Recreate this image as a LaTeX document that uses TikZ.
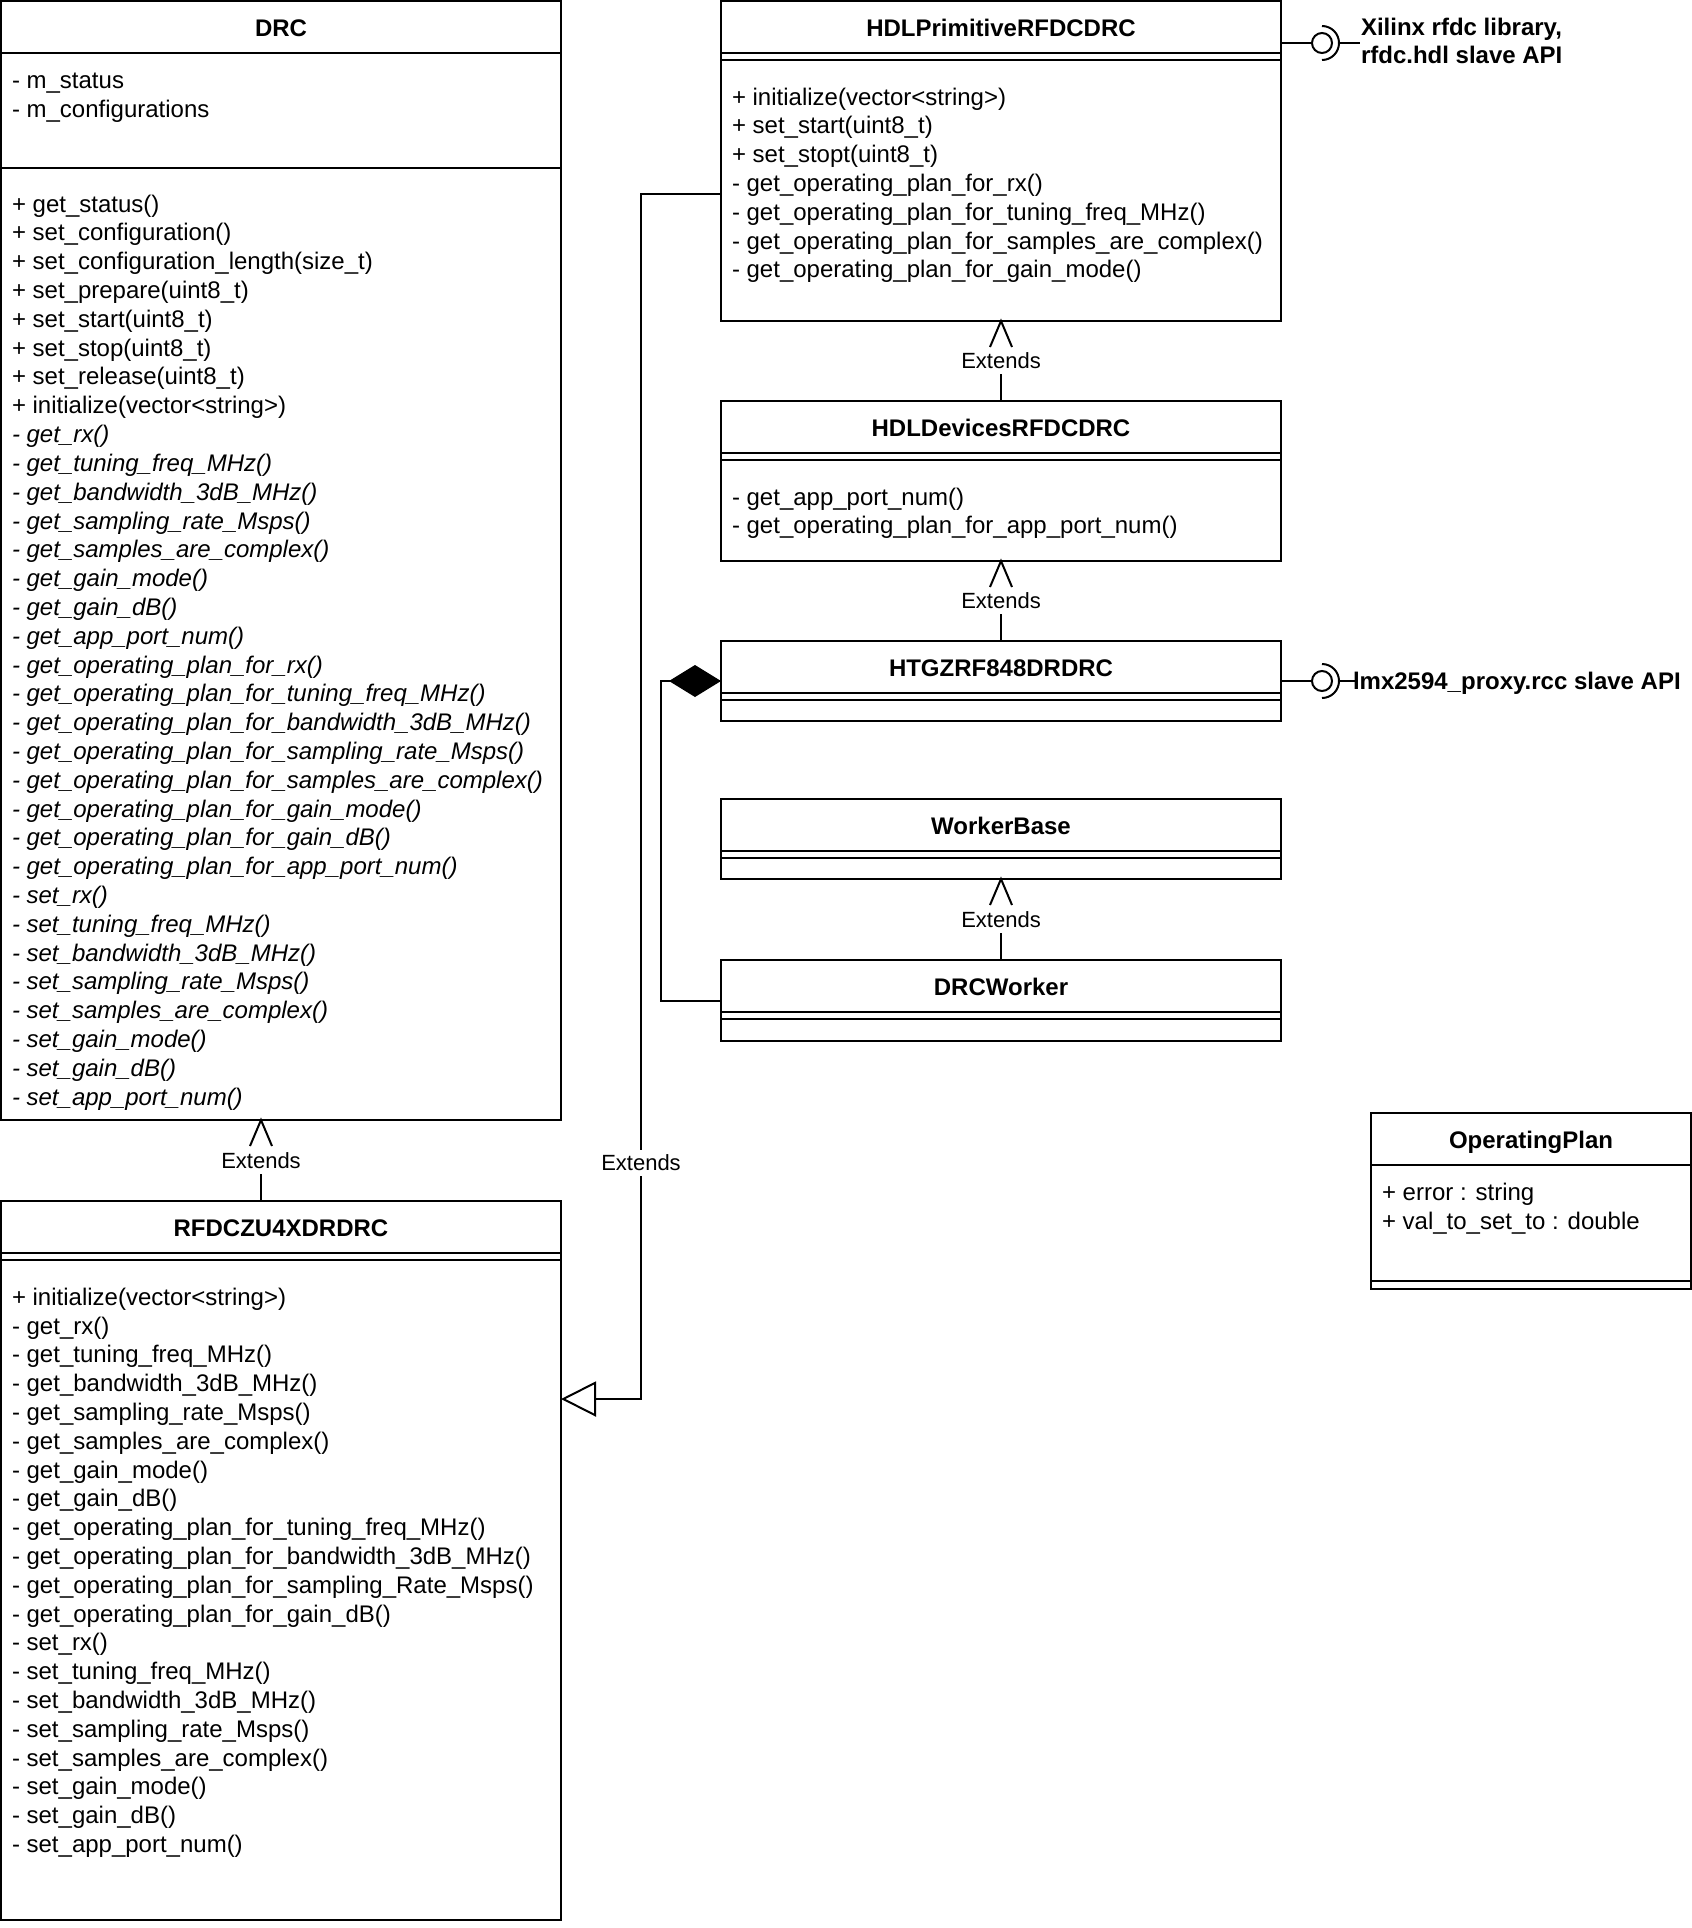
\documentclass[tikz,border=0pt]{standalone}
\usepackage{fontspec}
\setmainfont{Liberation Sans}
\usetikzlibrary{arrows.meta,calc}
\AtBeginDocument{\fontsize{12}{14.4}\selectfont}

\tikzset{
  classbox/.style={draw, inner sep=0pt, outer sep=0pt, anchor=north west, minimum width=280pt},
  classname/.style={font=\bfseries, inner sep=0pt, anchor=base},
  members/.style={anchor=north west, inner sep=0pt, align=left, execute at begin node=\strut},
  extlbl/.style={fill=white, font=\fontsize{11}{13.2}\selectfont, inner sep=1pt, minimum height=13pt},
  extends/.style={shorten >=14pt},
  openV/.pic={\draw (-11,26) -- (0,0) -- (11,26);},
}

\begin{document}
\begin{tikzpicture}[x=0.5pt, y=-0.5pt, line width=1pt]
  \useasboundingbox (0,0) rectangle (1692,1928);

  % class boxes
  \node[classbox, minimum height=559.5pt] (drc) at (1,1) {};
  \node[classbox, minimum height=359.5pt] (rfdczu) at (1,1201) {};
  \node[classbox, minimum height=160pt] (hdlprim) at (721,1) {};
  \node[classbox, minimum height=80pt] (hdldev) at (721,401) {};
  \node[classbox, minimum height=40pt] (htg) at (721,641) {};
  \node[classbox, minimum height=40pt] (workerbase) at (721,799) {};
  \node[classbox, minimum height=40.5pt] (drcworker) at (721,960) {};
  \node[classbox, minimum width=160pt, minimum height=88pt] (opplan) at (1371,1113) {};

  % compartments
  \foreach \c in {hdlprim,hdldev,htg,workerbase,drcworker,rfdczu}
    \draw ([yshift=-26pt]\c.north west) -- ([yshift=-26pt]\c.north east)
          ([yshift=-29.5pt]\c.north west) -- ([yshift=-29.5pt]\c.north east);
  \draw ([yshift=-26pt]drc.north west) -- ([yshift=-26pt]drc.north east);
  \draw ([yshift=-83.5pt]drc.north west) -- ([yshift=-83.5pt]drc.north east);
  \draw ([yshift=-26pt]opplan.north west) -- ([yshift=-26pt]opplan.north east);
  \draw ([yshift=4pt]opplan.south west) -- ([yshift=4pt]opplan.south east);

  % class names
  \node[classname] (drcname) at ([yshift=-17.5pt]drc.north) {DRC};
  \node[classname] (rfdczuname) at ([yshift=-17.5pt]rfdczu.north) {RFDCZU4XDRDRC};
  \node[classname] (hdlprimname) at ([yshift=-17.5pt]hdlprim.north) {HDLPrimitiveRFDCDRC};
  \node[classname] (hdldevname) at ([yshift=-17.5pt]hdldev.north) {HDLDevicesRFDCDRC};
  \node[classname] (htgname) at ([yshift=-17.5pt]htg.north) {HTGZRF848DRDRC};
  \node[classname] (workerbasename) at ([yshift=-17.5pt]workerbase.north) {WorkerBase};
  \node[classname] (drcworkername) at ([yshift=-17.5pt]drcworker.north) {DRCWorker};
  \node[classname] (opplanname) at ([yshift=-17.5pt]opplan.north) {OperatingPlan};

  % members
  \node[members] (drcattrs) at (11,71.8) {- m\_status\\- m\_configurations};
  \node[members] (drcops) at (11,193.8) {+ get\_status()\\+ set\_configuration()\\
    + set\_configuration\_length(size\_t)\\+ set\_prepare(uint8\_t)\\+ set\_start(uint8\_t)\\
    + set\_stop(uint8\_t)\\+ set\_release(uint8\_t)\\+ initialize(vector<string>)};
  \node[members, font=\itshape] (drcvirt) at (11,424.2) {- get\_rx()\\- get\_tuning\_freq\_MHz()\\
    - get\_bandwidth\_3dB\_MHz()\\- get\_sampling\_rate\_Msps()\\- get\_samples\_are\_complex()\\
    - get\_gain\_mode()\\- get\_gain\_dB()\\- get\_app\_port\_num()\\
    - get\_operating\_plan\_for\_rx()\\- get\_operating\_plan\_for\_tuning\_freq\_MHz()\\
    - get\_operating\_plan\_for\_bandwidth\_3dB\_MHz()\\- get\_operating\_plan\_for\_sampling\_rate\_Msps()\\
    - get\_operating\_plan\_for\_samples\_are\_complex()\\- get\_operating\_plan\_for\_gain\_mode()\\
    - get\_operating\_plan\_for\_gain\_dB()\\- get\_operating\_plan\_for\_app\_port\_num()\\
    - set\_rx()\\- set\_tuning\_freq\_MHz()\\- set\_bandwidth\_3dB\_MHz()\\- set\_sampling\_rate\_Msps()\\
    - set\_samples\_are\_complex()\\- set\_gain\_mode()\\- set\_gain\_dB()\\- set\_app\_port\_num()};
  \node[members] (rfdczuops) at (11,1286.8) {+ initialize(vector<string>)\\- get\_rx()\\
    - get\_tuning\_freq\_MHz()\\- get\_bandwidth\_3dB\_MHz()\\- get\_sampling\_rate\_Msps()\\
    - get\_samples\_are\_complex()\\- get\_gain\_mode()\\- get\_gain\_dB()\\
    - get\_operating\_plan\_for\_tuning\_freq\_MHz()\\- get\_operating\_plan\_for\_bandwidth\_3dB\_MHz()\\
    - get\_operating\_plan\_for\_sampling\_Rate\_Msps()\\- get\_operating\_plan\_for\_gain\_dB()\\
    - set\_rx()\\- set\_tuning\_freq\_MHz()\\- set\_bandwidth\_3dB\_MHz()\\- set\_sampling\_rate\_Msps()\\
    - set\_samples\_are\_complex()\\- set\_gain\_mode()\\- set\_gain\_dB()\\- set\_app\_port\_num()};
  \node[members] (hdlprimops) at (731,86.8) {+ initialize(vector<string>)\\+ set\_start(uint8\_t)\\
    + set\_stopt(uint8\_t)\\- get\_operating\_plan\_for\_rx()\\- get\_operating\_plan\_for\_tuning\_freq\_MHz()\\
    - get\_operating\_plan\_for\_samples\_are\_complex()\\- get\_operating\_plan\_for\_gain\_mode()};
  \node[members] (hdldevops) at (731,486.8) {- get\_app\_port\_num()\\- get\_operating\_plan\_for\_app\_port\_num()};
  \node[members] (opplanattrs) at (1381,1182.5) {+ error : string\\+ val\_to\_set\_to : double};

  % generalisations
  \draw[extends] (hdldev.north) -- node[extlbl] {Extends} (hdlprim.south);
  \pic at (hdlprim.south) {openV};
  \draw[extends] (htg.north) -- node[extlbl] {Extends} (hdldev.south);
  \pic at (hdldev.south) {openV};
  \draw[extends] (drcworker.north) -- node[extlbl] {Extends} (workerbase.south);
  \pic at (workerbase.south) {openV};
  \coordinate (drcbase) at ($(drc.south west)+(260,0)$);
  \draw[extends] (rfdczu.north -| drcbase) -- node[extlbl] {Extends} (drcbase);
  \pic at (drcbase) {openV};

  \coordinate (primport) at ($(hdlprim.north west)+(0,193)$);
  \coordinate (zuport) at ($(rfdczu.north east)+(0,198)$);
  \draw[-{Triangle[open,length=17.5pt,width=17.5pt]}] (primport) -- ++(-80,0)
    |- node[extlbl, pos=0.402] {Extends} (zuport);

  % composition
  \draw[-{Diamond[length=26pt,width=16pt]}] (drcworker.west) -- ++(-60,0) |- (htg.west);

  % interfaces
  \coordinate (xilball) at ($(hdlprim.north east)+(41,42)$);
  \node[anchor=north west, inner sep=0pt, align=left, font=\bfseries, execute at begin node=\strut]
    (xiltext) at (1360,16.8) {Xilinx rfdc library,\\rfdc.hdl slave API};
  \draw (xilball -| hdlprim.east) -- ++(31,0);
  \draw (xilball) circle[radius=10];
  \draw ($(xilball)+(0,-17)$) arc[start angle=-90, end angle=90, radius=17];
  \draw ($(xilball)+(17,0)$) -- (xiltext.west |- xilball);

  \coordinate (lmxball) at ($(htg.east)+(41,0)$);
  \node[anchor=base west, inner sep=0pt, font=\bfseries] (lmxtext) at (1352,689) {lmx2594\_proxy.rcc slave API};
  \draw (htg.east) -- ++(31,0);
  \draw (lmxball) circle[radius=10];
  \draw ($(lmxball)+(0,-17)$) arc[start angle=-90, end angle=90, radius=17];
  \draw ($(lmxball)+(17,0)$) -- ($(lmxtext.west |- lmxball)+(4,0)$);
\end{tikzpicture}
\end{document}
